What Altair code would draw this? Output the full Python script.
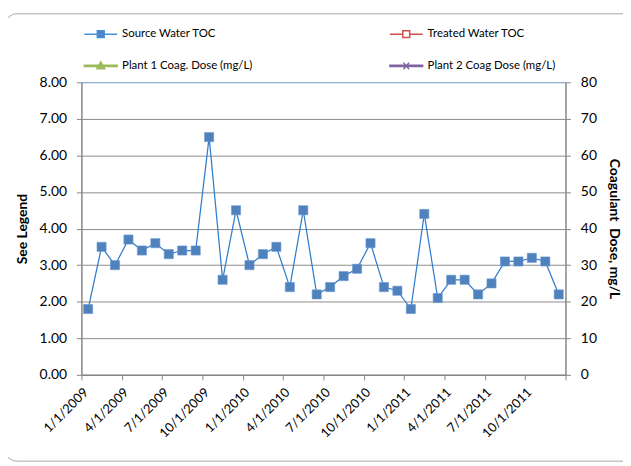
import altair as alt
import pandas as pd

months = ["1/1/2009", "2/1/2009", "3/1/2009", "4/1/2009", "5/1/2009", "6/1/2009",
          "7/1/2009", "8/1/2009", "9/1/2009", "10/1/2009", "11/1/2009", "12/1/2009",
          "1/1/2010", "2/1/2010", "3/1/2010", "4/1/2010", "5/1/2010", "6/1/2010",
          "7/1/2010", "8/1/2010", "9/1/2010", "10/1/2010", "11/1/2010", "12/1/2010",
          "1/1/2011", "2/1/2011", "3/1/2011", "4/1/2011", "5/1/2011", "6/1/2011",
          "7/1/2011", "8/1/2011", "9/1/2011", "10/1/2011", "11/1/2011", "12/1/2011"]
source_toc = [1.8, 3.5, 3.0, 3.7, 3.4, 3.6, 3.3, 3.4, 3.4, 6.5, 2.6, 4.5,
              3.0, 3.3, 3.5, 2.4, 4.5, 2.2, 2.4, 2.7, 2.9, 3.6, 2.4, 2.3,
              1.8, 4.4, 2.1, 2.6, 2.6, 2.2, 2.5, 3.1, 3.1, 3.2, 3.1, 2.2]
treated_toc = []
plant1_dose = []
plant2_dose = []

series_names = ["Source Water TOC", "Treated Water TOC",
                "Plant 1 Coag. Dose (mg/L)", "Plant 2 Coag Dose (mg/L)"]
series_stroke = ["#4a8fd6", "#d0504d", "#9bbb59", "#8064a2"]
series_fill = ["#4f81bd", "#ffffff", "#9bbb59", "#8064a2"]
series_shape = [
    "M-1,0H1M-0.21,-0.21H0.21V0.21H-0.21Z",
    "M-1,0H-0.21M0.21,0H1M-0.21,-0.21H0.21V0.21H-0.21Z",
    "M-1,-0.045H1V0.045H-1ZM0,-0.24L0.24,0.17H-0.24Z",
    "M-1,-0.045H1V0.045H-1ZM-0.17,-0.2L0.17,0.2M-0.17,0.2L0.17,-0.2",
]

tick_labels = months[::3]
label_expr = ("datum.value < 36 ? [" + ",".join("'" + t + "'" for t in tick_labels)
              + "][datum.value / 3] : ''")

toc_df = pd.DataFrame({"idx": list(range(len(months))), "month": months, "toc": source_toc})
dose_df = pd.DataFrame({"pos": pd.Series(plant1_dose, dtype=float),
                        "dose": pd.Series(plant1_dose, dtype=float)})
legend_df = pd.DataFrame({"series": pd.Series([], dtype=str)})

W, H = 488, 295

x_enc = alt.X("pos:Q",
              scale=alt.Scale(domain=[0, 36], nice=False, zero=False),
              axis=alt.Axis(values=list(range(0, 37, 3)), labelExpr=label_expr,
                            labelAngle=-45, grid=False, title=None, tickSize=5,
                            labelPadding=6, labelFontSize=13, labelOverlap=False,
                            labelBound=False))

y_left = alt.Y("toc:Q",
               scale=alt.Scale(domain=[0, 8], nice=False),
               axis=alt.Axis(values=list(range(0, 9)), format=".2f", title="See Legend",
                             grid=True, tickSize=5, labelPadding=10, titlePadding=10,
                             gridColor={"condition": {"test": "datum.value === 8", "value": "#6f93c6"},
                                        "value": "#8c8c8c"}))

base = alt.Chart(toc_df).transform_calculate(pos="datum.idx + 0.5")
line = base.mark_line(color="#2f7ccc", strokeWidth=1.25).encode(x=x_enc, y=y_left)
pts = base.mark_point(shape="square", filled=True, size=85, color="#4f81bd", opacity=1,
                      stroke="#6a98cf", strokeWidth=0.6).encode(x=x_enc, y=y_left)
toc_layer = alt.layer(line, pts)

dose_layer = alt.Chart(dose_df).mark_line(color="#9bbb59", strokeWidth=3).encode(
    x=x_enc,
    y=alt.Y("dose:Q", scale=alt.Scale(domain=[0, 80], nice=False),
            axis=alt.Axis(values=list(range(0, 81, 10)), orient="right", grid=False,
                          title="Coagulant\u00a0 Dose, mg/L", tickSize=5,
                          labelPadding=10, titlePadding=10)))

legend_layer = alt.Chart(legend_df).mark_point(filled=True, size=1089, opacity=1).encode(
    shape=alt.Shape("series:N", scale=alt.Scale(domain=series_names, range=series_shape),
                    legend=alt.Legend(title=None, orient="none", legendX=2, legendY=-66,
                                      direction="horizontal",
                                      columns=2, columnPadding=135, rowPadding=8,
                                      symbolSize=1089, symbolStrokeWidth=1.5,
                                      labelFontSize=11.5, labelOffset=4, labelFont="Lato",
                                      labelColor="#000000", labelLimit=300)),
    fill=alt.Fill("series:N", scale=alt.Scale(domain=series_names, range=series_fill), legend=alt.Legend(title=None)),
    stroke=alt.Stroke("series:N", scale=alt.Scale(domain=series_names, range=series_stroke), legend=alt.Legend(title=None)),
)

frame = alt.Chart(pd.DataFrame({"a": [0]})).mark_rect(
    fill="#ffffff", fillOpacity=0, stroke="#a6a6a6", strokeWidth=1, cornerRadius=12
).encode(x=alt.value(-77), x2=alt.value(560), y=alt.value(-69), y2=alt.value(382))

chart = alt.layer(frame, toc_layer, dose_layer, legend_layer).resolve_scale(
    y="independent"
).properties(
    width=W, height=H,
    autosize=alt.AutoSizeParams(type="none"),
    padding={"left": 74, "top": 73, "right": 58, "bottom": 88},
    background="#ffffff",
).configure_view(stroke=None).configure_axis(
    labelFont="Lato", labelFontSize=14, labelColor="#000000",
    titleFont="Lato", titleFontSize=14, titleFontWeight="bold", titleColor="#000000",
    domainColor="#868686", domainWidth=1.5, tickColor="#868686", tickWidth=1,
)

chart.save("out.html", embed_options={"renderer": "svg", "actions": False})
